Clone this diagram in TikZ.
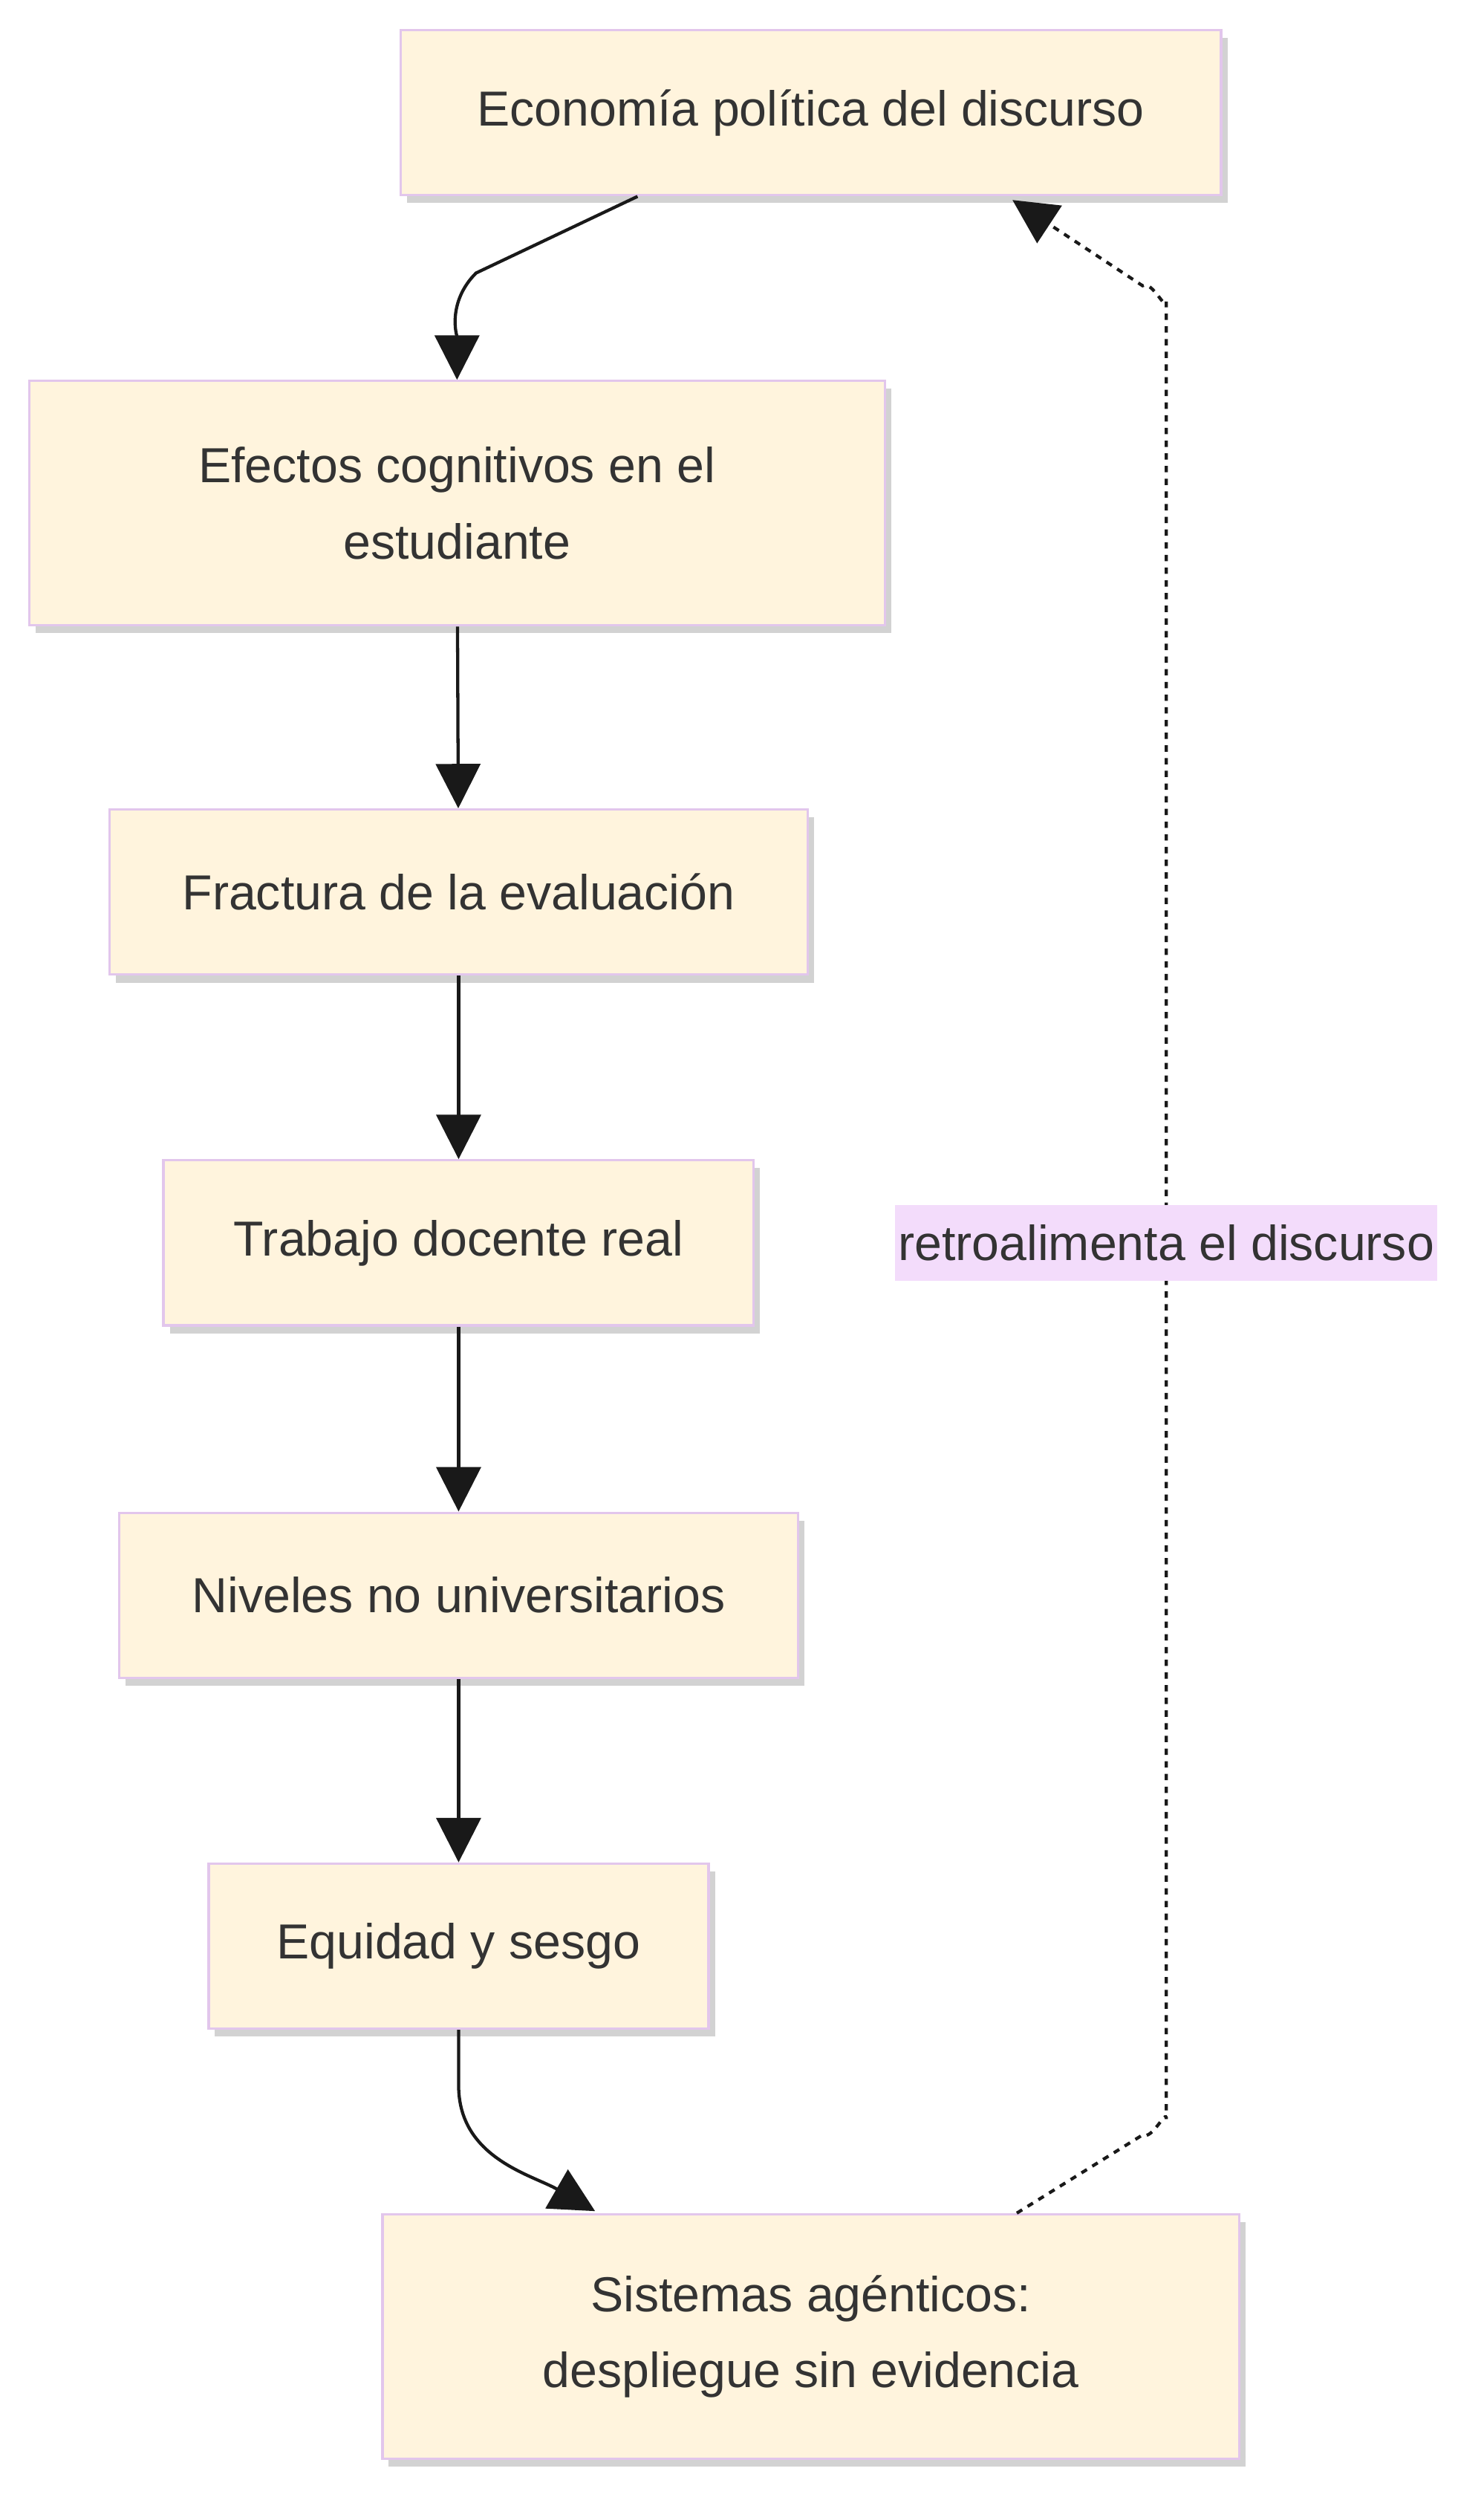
\documentclass[tikz,border=0pt]{standalone}
\usepackage{fontspec}
\setmainfont{Liberation Sans}
\usetikzlibrary{arrows.meta, shadows, positioning}
\definecolor{boxfill}{HTML}{FFF4DD}
\definecolor{boxline}{HTML}{E2C6EC}
\definecolor{labfill}{HTML}{F3DCFB}
\definecolor{txt}{HTML}{333333}

\begin{document}
\begin{tikzpicture}[
    x=1pt, y=-1pt,
    box/.style={rectangle, draw=boxline, fill=boxfill, line width=1.5pt, text=txt, align=center,
      font=\fontsize{31}{48}\selectfont, minimum height=104pt,
      drop shadow={shadow xshift=4pt, shadow yshift=-5pt, fill=black!35, opacity=0.5}},
    arrow/.style={-{Triangle[length=28pt,width=28pt]}, line width=2pt, black!90},
    back/.style={-{Triangle[length=28pt,width=28pt]}, line width=2pt, black!90, dash pattern=on 4pt off 4pt}
]
\useasboundingbox (0,0) rectangle (935,1575);

\node[box, minimum width=517pt] (econ) at (511,71) {Economía política del discurso};
\node[box, minimum width=539pt, minimum height=154pt] (efectos) at (288,317) {Efectos cognitivos en el\\estudiante};
\node[box, minimum width=440pt] (fractura) at (289,562) {Fractura de la evaluación};
\node[box, minimum width=372pt] (trabajo) at (289,783) {Trabajo docente real};
\node[box, minimum width=428pt] (niveles) at (289,1005) {Niveles no universitarios};
\node[box, minimum width=315pt] (equidad) at (289,1226) {Equidad y sesgo};
\node[box, minimum width=540pt, minimum height=154pt] (sistemas) at (511,1472) {Sistemas agénticos:\\despliegue sin evidencia};

\coordinate (c1) at (735,190);
\coordinate (c2) at (735,1335);

\draw[arrow] (econ.south west) ++(150,0) -- (300,172) to[out=-135,in=90] (efectos.north);
\draw[arrow] (efectos) -- (fractura);
\draw[arrow] (fractura) -- (trabajo);
\draw[arrow] (trabajo) -- (niveles);
\draw[arrow] (niveles) -- (equidad);
\draw[arrow] (equidad.south) -- ++(0,35) to[out=-90,in=150] (375,1393);
\draw[back] (sistemas.north east) ++(-141,0) -- (720,1345) to[out=-30,in=90] (c2) -- (c1)
  to[out=-90,in=30] (720,180) -- (638,126);
\node[fill=labfill, text=txt, font=\fontsize{31}{36}\selectfont, inner sep=2pt, minimum height=48pt] (lab) at (735,783) {retroalimenta el discurso};

\end{tikzpicture}
\end{document}
